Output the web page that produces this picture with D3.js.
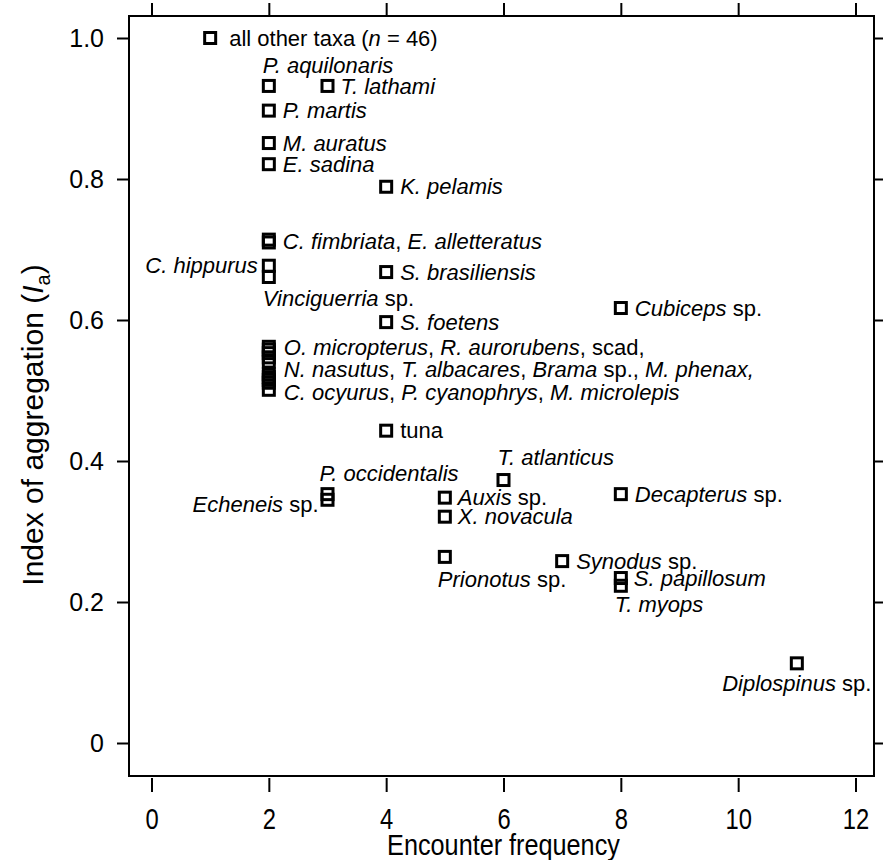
<!DOCTYPE html>
<html>
<head>
<meta charset="utf-8">
<script src="https://cdn.jsdelivr.net/npm/d3@7"></script>
<style>
  body { margin: 0; background: #fff; }
  svg { display: block; font-family: "Liberation Sans", Arial, Helvetica, sans-serif; }
  text { white-space: pre; }
</style>
</head>
<body>
<svg id="chart" width="883" height="860"></svg>
<script>
// Encounter frequency vs index of aggregation, one entry per taxon
const taxa = [
    "all other taxa", "P. aquilonaris", "T. lathami", "P. martis", "M. auratus",
    "E. sadina", "K. pelamis", "C. fimbriata", "E. alletteratus", "C. hippurus",
    "Vinciguerria sp.", "S. brasiliensis", "Cubiceps sp.", "S. foetens",
    "O. micropterus", "R. aurorubens", "scad", "N. nasutus", "T. albacares",
    "Brama sp.", "M. phenax", "C. ocyurus", "P. cyanophrys", "M. microlepis",
    "tuna", "T. atlanticus", "P. occidentalis", "Echeneis sp.", "Auxis sp.",
    "X. novacula", "Decapterus sp.", "Prionotus sp.", "Synodus sp.",
    "S. papillosum", "T. myops", "Diplospinus sp."
];
const freq = [
    1, 2, 3, 2, 2,
    2, 4, 2, 2, 2,
    2, 4, 8, 4,
    2, 2, 2, 2, 2,
    2, 2, 2, 2, 2,
    4, 6, 3, 3, 5,
    5, 8, 5, 7,
    8, 8, 11
];
const aggIndex = [
    1.0, 0.932, 0.932, 0.897, 0.851,
    0.821, 0.789, 0.714, 0.710, 0.677,
    0.661, 0.668, 0.617, 0.597,
    0.562, 0.558, 0.553, 0.547, 0.541,
    0.523, 0.519, 0.515, 0.511, 0.501,
    0.443, 0.373, 0.353, 0.345, 0.348,
    0.321, 0.353, 0.264, 0.258,
    0.234, 0.223, 0.113
];

const xTicks = [0, 2, 4, 6, 8, 10, 12];
const yTicks = [0, 0.2, 0.4, 0.6, 0.8, 1.0];

// label texts ("_" toggles italics) and the data point each one hangs on
const labelText = [
    "all other taxa (_n_ = 46)", "_P. aquilonaris_", "_T. lathami_", "_P. martis_",
    "_M. auratus_", "_E. sadina_", "_K. pelamis_", "_C. fimbriata_, _E. alletteratus_",
    "_C. hippurus_", "_Vinciguerria_ sp.", "_S. brasiliensis_", "_Cubiceps_ sp.",
    "_S. foetens_", "_O. micropterus_, _R. aurorubens_, scad,",
    "_N. nasutus_, _T. albacares_, _Brama_ sp., _M. phenax,_",
    "_C. ocyurus_, _P. cyanophrys_, _M. microlepis_", "tuna", "_T. atlanticus_",
    "_P. occidentalis_", "_Echeneis_ sp.", "_Auxis_ sp.", "_X. novacula_",
    "_Decapterus_ sp.", "_Prionotus_ sp.", "_Synodus_ sp.", "_S. papillosum_",
    "_T. myops_", "_Diplospinus_ sp."
];
const labelFreq = [1, 2, 3, 2, 2, 2, 4, 2, 2, 2, 4, 8, 4, 2, 2, 2, 4, 6, 3, 3, 5, 5, 8, 5, 7, 8, 8, 11];
const labelIa = [
    1.0, 0.932, 0.932, 0.897, 0.851, 0.821, 0.789, 0.712, 0.677, 0.661,
    0.668, 0.617, 0.597, 0.562, 0.530, 0.497, 0.443, 0.373, 0.353, 0.345,
    0.348, 0.321, 0.353, 0.264, 0.258, 0.234, 0.223, 0.113
];

// label placement relative to the point: [dx, dy, anchor]
const R = [14, 0, "start"];
const labelPlace = [
    [19, 0, "start"], [-6, -21, "start"], [13, 0, "start"], R,
    R, R, R, R,
    [-11, 0, "end"], [-6, 21, "start"], R, R,
    R, [15, 1, "start"],
    [15, 0, "start"],
    [15, 0, "start"], R, [-6, -23, "start"],
    [-8, -21, "start"], [-9, 5, "end"], [13, 0, "start"], [13, 0, "start"],
    R, [-7, 22, "start"], R, [13, 0, "start"],
    [-6, 19, "start"], [0, 20, "middle"]
];

const box = { left: 129, right: 874, top: 16, bottom: 776 };

const svg = d3.select("#chart");

const x = d3.scaleLinear().domain([0, 12]).range([151.5, 855.5]);
const y = d3.scaleLinear().domain([0, 1]).range([743, 38]);

// frame
svg.append("rect")
    .attr("x", box.left)
    .attr("y", box.top)
    .attr("width", box.right - box.left)
    .attr("height", box.bottom - box.top)
    .attr("fill", "none")
    .attr("stroke", "#000")
    .attr("stroke-width", 2);

const styleAxis = g => {
    g.select(".domain").remove();
    g.selectAll(".tick line").attr("stroke", "#000").attr("stroke-width", 2);
    g.selectAll(".tick text").attr("fill", "#000");
};

// left axis
svg.append("g")
    .attr("transform", `translate(${box.left},0)`)
    .call(d3.axisLeft(y).tickValues(yTicks).tickSize(12).tickPadding(13)
        .tickFormat(d => d === 0 ? "0" : d3.format(".1f")(d)))
    .call(styleAxis)
    .selectAll(".tick text")
    .attr("font-size", 25);

// right axis, ticks only
svg.append("g")
    .attr("transform", `translate(${box.right},0)`)
    .call(d3.axisRight(y).tickValues(yTicks).tickSize(9).tickFormat(""))
    .call(styleAxis);

// top axis, ticks only
svg.append("g")
    .attr("transform", `translate(0,${box.top})`)
    .call(d3.axisTop(x).tickValues(xTicks).tickSize(13).tickFormat(""))
    .call(styleAxis);

// bottom axis
svg.append("g")
    .attr("transform", `translate(0,${box.bottom + 2})`)
    .call(d3.axisBottom(x).tickValues(xTicks).tickSize(14).tickPadding(16))
    .call(styleAxis)
    .selectAll(".tick text")
    .attr("font-size", 29)
    .attr("transform", "scale(0.82,1)");

// axis titles
svg.append("text")
    .attr("transform", `translate(${x(6)},855) scale(0.87,1)`)
    .attr("text-anchor", "middle")
    .attr("font-size", 29)
    .text("Encounter frequency");

const yTitle = svg.append("text")
    .attr("transform", "translate(43,425) rotate(-90)")
    .attr("text-anchor", "middle")
    .attr("font-size", 30);
yTitle.append("tspan").text("Index of aggregation (");
yTitle.append("tspan").attr("font-style", "italic").text("I");
yTitle.append("tspan").attr("font-size", 20).attr("dy", 7).text("a");
yTitle.append("tspan").attr("dy", -7).text(")");

// markers
svg.append("g")
    .selectAll("rect")
    .data(taxa.map((t, i) => ({ t, f: freq[i], v: aggIndex[i] })))
    .join("rect")
    .attr("x", d => x(d.f) - 5.5)
    .attr("y", d => y(d.v) - 5.5)
    .attr("width", 11)
    .attr("height", 11)
    .attr("fill", "none")
    .attr("stroke", "#000")
    .attr("stroke-width", 3);

// labels
const labels = svg.append("g")
    .attr("font-size", 22)
    .selectAll("text")
    .data(labelText.map((t, i) => ({ t, f: labelFreq[i], v: labelIa[i], p: labelPlace[i] })))
    .join("text")
    .attr("x", d => x(d.f) + d.p[0])
    .attr("y", d => y(d.v) + d.p[1])
    .attr("dy", "0.35em")
    .attr("text-anchor", d => d.p[2]);

labels.each(function(d) {
    const parts = d.t.split("_");
    const el = d3.select(this);
    parts.forEach((s, i) => {
        if (!s) return;
        el.append("tspan")
            .attr("font-style", i % 2 ? "italic" : "normal")
            .text(s);
    });
});
</script>
</body>
</html>
